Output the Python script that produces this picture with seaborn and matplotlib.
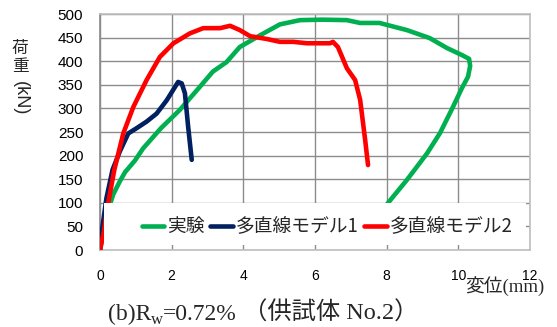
import numpy as np
import pandas as pd
import matplotlib
matplotlib.use("Agg")
import matplotlib.pyplot as plt
import seaborn as sns
from matplotlib.patches import Rectangle

# curve data (displacement mm, load kN)
exp_x = [0, 0.05, 0.1, 0.2, 0.37, 0.55, 0.7, 0.98, 1.2, 1.7, 2.23, 2.79, 3.15, 3.53, 3.9,
         4.47, 5.02, 5.58, 6.2, 6.89, 7.26, 7.8, 8.56, 9.2, 9.68, 10.1, 10.3, 10.33, 10.27, 10.1,
         9.85, 9.49, 9.13, 8.56, 8.04, 7.7]
exp_y = [0, 20, 40, 78, 118, 145, 165, 190, 215, 258, 297, 346, 378, 398, 430,
         455, 478, 487, 488, 487, 481, 481, 466, 449, 428, 413, 405, 390, 367, 343,
         303, 248, 205, 148, 100, 60]

m1_x = [0, 0.07, 0.18, 0.35, 0.56, 0.79, 1.02, 1.3, 1.58, 1.86, 2.18, 2.28, 2.37, 2.46, 2.56]
m1_y = [0, 50, 110, 170, 210, 247, 258, 272, 289, 317, 356, 353, 332, 261, 191]

m2_x = [0, 0.1, 0.23, 0.4, 0.65, 0.93, 1.3, 1.67, 2.05, 2.51, 2.88, 3.35, 3.63, 3.9, 4.19,
        4.66, 5.02, 5.39, 5.78, 6.42, 6.5, 6.64, 6.89, 7.12, 7.26, 7.4, 7.48]
m2_y = [0, 36, 100, 170, 247, 303, 360, 409, 438, 459, 470, 470, 475, 466, 453,
        447, 441, 441, 438, 438, 441, 430, 385, 360, 318, 233, 180]

labels = ["実験", "多直線モデル1", "多直線モデル2"]
colors = ["#00B050", "#002060", "#FF0000"]
x_ticks = [0, 2, 4, 6, 8, 10, 12]
y_ticks = list(range(0, 501, 50))

df = pd.concat([
    pd.DataFrame({"x": exp_x, "y": exp_y, "series": labels[0]}),
    pd.DataFrame({"x": m1_x, "y": m1_y, "series": labels[1]}),
    pd.DataFrame({"x": m2_x, "y": m2_y, "series": labels[2]}),
])

sns.set_theme(style="white")
plt.rcParams['font.family'] = ['Liberation Sans', 'Noto Sans CJK JP', 'DejaVu Sans']

W, H = 557, 327
fig = plt.figure(figsize=(W / 100, H / 100), dpi=100)
ax = fig.add_axes([100 / W, 1 - 250 / H, 430 / W, 236 / H])

sns.lineplot(data=df, x="x", y="y", hue="series", palette=colors, hue_order=labels,
             sort=False, estimator=None, linewidth=3.3, ax=ax, legend=False, zorder=3)

ax.set_xlim(0, 12)
ax.set_ylim(0, 500)
ax.set_xticks(x_ticks)
ax.set_yticks(y_ticks)
ax.grid(True, color="#8c8c8c", linewidth=1.0)
ax.set_axisbelow(True)
ax.tick_params(axis="both", length=0, colors="#000000")
ax.tick_params(axis="y", labelsize=11, pad=12)
ax.tick_params(axis="x", labelsize=10, pad=14)
ax.set_xlabel("")
ax.set_ylabel("")
for side in ["top", "right", "bottom"]:
    ax.spines[side].set_color("#bfbfbf")
    ax.spines[side].set_linewidth(1.2)
ax.spines["left"].set_color("#8c8c8c")

# white backing for legend that hides curves and grid beneath it
ax.add_patch(Rectangle((0.12, 10), 11.76, 90, facecolor="white", edgecolor="none",
                       zorder=4, transform=ax.transData))

handles = [plt.Line2D([], [], color=c, linewidth=3.3) for c in colors]
leg = ax.legend(handles, labels, ncol=3, loc="center", bbox_to_anchor=(6.34, 49),
                bbox_transform=ax.transData, frameon=False,
                handlelength=1.2, handletextpad=0.15, columnspacing=0.3,
                prop={"family": ["Noto Sans CJK JP"], "size": 13.5})
leg.set_zorder(5)

# vertical y label: upright CJK, rotated latin
ylab_font = ["Noto Sans CJK JP"]
fig.text(20 / W, 1 - 48 / H, "荷", family=ylab_font, fontsize=12, ha="center", va="center")
fig.text(20 / W, 1 - 66 / H, "重", family=ylab_font, fontsize=12, ha="center", va="center")
fig.text(20 / W, 1 - 98 / H, "(kN)", family=["Liberation Sans"], fontsize=13,
         rotation=-90, ha="center", va="center")

fig.text(505 / W, 1 - 286 / H, "変位(mm)", family=["Liberation Serif", "Noto Sans CJK JP"],
         fontsize=13.5, ha="center", va="center")

# caption with subscript, pieces placed side by side
serif = ["Liberation Serif", "Noto Sans CJK JP"]
renderer = fig.canvas.get_renderer()
base = 320
pieces = [("(b)R", 17, 0), ("w", 12, 4), ("=0.72%", 17, 0), (" （供試体 No.2）", 17.5, 0)]
x = 108
for s, size, drop in pieces:
    t = fig.text(x / W, 1 - (base + drop) / H, s, family=serif, fontsize=size,
                 ha="left", va="baseline")
    x += t.get_window_extent(renderer).width

fig.savefig("out.png", dpi=100)
